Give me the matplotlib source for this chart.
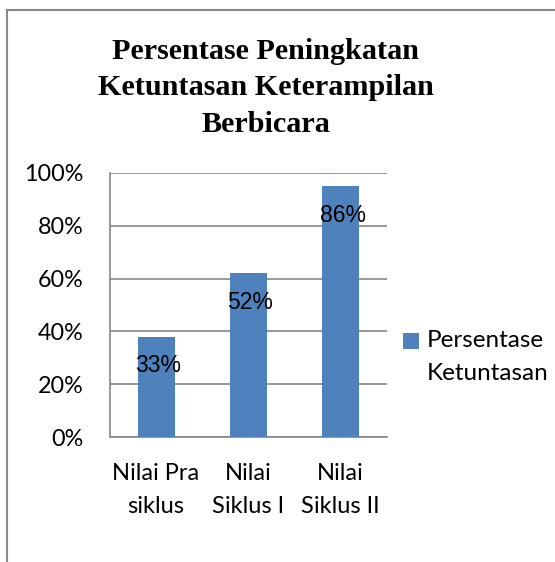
import matplotlib.pyplot as plt
from matplotlib.patches import Rectangle

# data
categories = ["Nilai Pra\nsiklus", "Nilai\nSiklus I", "Nilai\nSiklus II"]
bar_values = [0.38, 0.62, 0.95]          # heights as drawn
bar_labels = ["33%", "52%", "86%"]       # labels as printed
y_ticks = [0, 0.2, 0.4, 0.6, 0.8, 1.0]
y_tick_labels = ["0%", "20%", "40%", "60%", "80%", "100%"]
series_name = "Persentase\nKetuntasan"
title = "Persentase Peningkatan\nKetuntasan Keterampilan\nBerbicara"

bar_color = "#4F81BD"
grid_color = "#868686"
sans = ["Lato", "DejaVu Sans"]
narrow = ["Liberation Sans Narrow", "Liberation Sans", "DejaVu Sans"]

fig = plt.figure(figsize=(5.55, 5.62), dpi=100)
ax = fig.add_axes([0.198, 0.2224, 0.499, 0.4698])

x = list(range(len(categories)))
bars = ax.bar(x, bar_values, width=0.4, color=bar_color, label=series_name, zorder=3)

for rect, lab in zip(bars, bar_labels):
    ax.annotate(lab, (rect.get_x() + rect.get_width() / 2, rect.get_height()),
                xytext=(1.5, -21.0), textcoords="offset points",
                ha="center", va="center", fontsize=16.5, family=narrow, zorder=4)

ax.set_xlim(-0.5, len(categories) - 0.5)
ax.set_ylim(0, 1.0)
ax.set_yticks(y_ticks)
ax.set_yticklabels(y_tick_labels, family=sans, fontsize=16.8)
ax.set_xticks(x)
ax.set_xticklabels(categories, family=sans, fontsize=17, linespacing=1.66)
ax.tick_params(axis="y", length=0, pad=19)
ax.tick_params(axis="x", length=0, pad=19)

ax.yaxis.grid(True, color=grid_color, linewidth=1.2, zorder=0)
for side in ["top", "right"]:
    ax.spines[side].set_visible(False)
for side in ["left", "bottom"]:
    ax.spines[side].set_color(grid_color)
    ax.spines[side].set_linewidth(1.2)

leg = ax.legend(loc="upper left", bbox_to_anchor=(0.7256, 0.4128), bbox_transform=fig.transFigure,
                frameon=False, prop={"family": sans, "size": 17.5},
                handlelength=0.65, handleheight=0.65, handletextpad=0.35,
                borderpad=0, borderaxespad=0)
for t in leg.get_texts():
    t.set_linespacing(1.7)
# put the legend square beside the first line of the label
for col in leg._legend_handle_box.get_children():
    for hp in col.get_children():
        hp.align = "top"
for h in leg.legend_handles:
    h.set_y(h.get_y() - 2)

fig.text(0.479, 1 - 132 / 562, title, ha="center", va="baseline", fontsize=21.7,
         fontweight="bold", family=["Liberation Serif", "DejaVu Serif"], linespacing=1.46)

# outer frame of the chart area (only left and top edges visible)
fig.add_artist(Rectangle((7 / 555, -0.1), 1.2, 1 - 10 / 562 + 0.1, transform=fig.transFigure,
                         fill=False, edgecolor="#888888", linewidth=1.5))

fig.savefig("out.png", dpi=100)
